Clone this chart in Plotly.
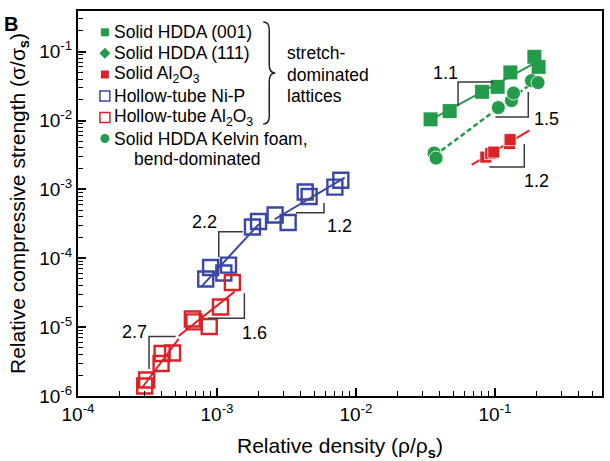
import numpy as np
import plotly.graph_objects as go

# ---------------------------------------------------------------- data
# Solid HDDA octet lattice, (001) orientation
hdda_density = [0.0344, 0.0472, 0.0807, 0.1045, 0.129, 0.192, 0.206]
hdda_strength = [0.0104, 0.0137, 0.0261, 0.0308, 0.0499, 0.0842, 0.060]

# Solid HDDA Kelvin foam (bend-dominated)
kelvin_density = [0.0365, 0.0377, 0.1057, 0.1315, 0.136, 0.183, 0.204]
kelvin_strength = [0.00337, 0.00285, 0.0154, 0.01945, 0.025, 0.0379, 0.0355]

# Solid Al2O3 lattice
al2o3_density = [0.0859, 0.0931, 0.098, 0.127, 0.1285]
al2o3_strength = [0.00294, 0.00331, 0.00348, 0.00462, 0.00528]

# Hollow-tube Ni-P lattice
nip_density = [8.3e-4, 9.0e-4, 1.21e-3, 1.12e-3, 1.80e-3, 1.99e-3,
               2.62e-3, 3.25e-3, 4.31e-3, 4.6e-3, 7.05e-3, 7.78e-3]
nip_strength = [4.99e-5, 7.33e-5, 7.96e-5, 6.1e-5, 2.84e-4, 3.41e-4,
                4.24e-4, 3.30e-4, 9.14e-4, 7.87e-4, 1.08e-3, 1.36e-3]

# Hollow-tube Al2O3 lattice
hal_density = [3.02e-4, 3.12e-4, 3.96e-4, 4.03e-4, 4.79e-4,
               6.65e-4, 6.82e-4, 8.79e-4, 1.06e-3, 1.29e-3]
hal_strength = [1.40e-6, 1.71e-6, 2.96e-6, 4.14e-6, 4.21e-6,
                1.31e-5, 1.19e-5, 1.02e-5, 1.96e-5, 4.44e-5]

# power-law scaling fits: (density, strength, points used, exponent, density span)
fit_hdda = (hdda_density, hdda_strength, slice(0, 7), 1.1, [0.0345, 0.19])
fit_kelvin = (kelvin_density, kelvin_strength, slice(0, 7), 1.5, [0.037, 0.205])
fit_al2o3 = (al2o3_density, al2o3_strength, slice(0, 5), 1.2, [0.068, 0.177])
fit_nip_low = (nip_density, nip_strength, slice(0, 6), 2.2, [7.7e-4, 2.0e-3])
fit_nip_high = (nip_density, nip_strength, slice(6, 12), 1.2, [2.6e-3, 8.3e-3])
fit_hal_low = (hal_density, hal_strength, slice(0, 5), 2.7, [2.9e-4, 5.3e-4])
fit_hal_high = (hal_density, hal_strength, slice(5, 10), 1.6, [5.3e-4, 1.34e-3])

x_ticks = [1e-4, 1e-3, 1e-2, 1e-1]
x_ticktext = ["10<sup>-4</sup>", "10<sup>-3</sup>", "10<sup>-2</sup>", "10<sup>-1</sup>"]
y_ticks = [1e-6, 1e-5, 1e-4, 1e-3, 1e-2, 1e-1]
y_ticktext = ["10<sup>-6</sup>", "10<sup>-5</sup>", "10<sup>-4</sup>",
              "10<sup>-3</sup>", "10<sup>-2</sup>", "10<sup>-1</sup>"]

# ---------------------------------------------------------------- style
GREEN = "#239b49"
RED = "#db2229"
BLUE = "#3b47a5"
INK = "#3a3a3a"
FONT = "Liberation Sans, Arial, sans-serif"

W, H = 610, 461
L, R, T, B = 78, 604, 11, 396


def px(x):
    return (x - L) / (R - L)


def py(y):
    return (B - y) / (B - T)


def fit_line(spec):
    dens, stren, sel, n, span = spec
    lx = np.log10(np.array(dens)[sel])
    ly = np.log10(np.array(stren)[sel])
    xs = np.array(span)
    ys = 10 ** (ly.mean() + n * (np.log10(xs) - lx.mean()))
    return xs, ys


fig = go.Figure()

# fit lines first so markers sit on top
for spec, color, dash, width in [
    (fit_hdda, GREEN, "solid", 2),
    (fit_kelvin, GREEN, "5px,3px", 2.5),
    (fit_al2o3, RED, "solid", 2),
    (fit_nip_low, BLUE, "solid", 2),
    (fit_nip_high, BLUE, "solid", 2),
    (fit_hal_low, RED, "solid", 2),
    (fit_hal_high, RED, "solid", 2),
]:
    xs, ys = fit_line(spec)
    fig.add_trace(go.Scatter(x=xs, y=ys, mode="lines",
                             line=dict(color=color, width=width, dash=dash),
                             hoverinfo="skip"))

fig.add_trace(go.Scatter(x=kelvin_density, y=kelvin_strength, mode="markers",
                         name="Solid HDDA Kelvin foam",
                         marker=dict(symbol="circle", size=14, color=GREEN,
                                     line=dict(color="white", width=0.8))))
fig.add_trace(go.Scatter(x=hdda_density, y=hdda_strength, mode="markers",
                         name="Solid HDDA (001)",
                         marker=dict(symbol="square", size=14, color=GREEN,
                                     line=dict(width=0))))
fig.add_trace(go.Scatter(x=al2o3_density, y=al2o3_strength, mode="markers",
                         name="Solid Al2O3",
                         marker=dict(symbol="square", size=12, color=RED,
                                     line=dict(color="white", width=0.8))))
fig.add_trace(go.Scatter(x=nip_density, y=nip_strength, mode="markers",
                         name="Hollow-tube Ni-P",
                         marker=dict(symbol="square-open", size=15, color=BLUE,
                                     line=dict(width=2.4))))
fig.add_trace(go.Scatter(x=hal_density, y=hal_strength, mode="markers",
                         name="Hollow-tube Al2O3",
                         marker=dict(symbol="square-open", size=15, color=RED,
                                     line=dict(width=2.4))))

shapes = []
annotations = []

# slope brackets with exponent labels
brackets = [
    ([(495, 82), (459.5, 82), (459.5, 106)], "1.1", (447, 73)),
    ([(497, 117), (530, 117), (530, 92)], "1.5", (548, 119)),
    ([(491, 167), (526, 167), (526, 144)], "1.2", (538, 181)),
    ([(243.5, 231.7), (219.3, 231.7), (219.3, 257)], "2.2", (205, 221.5)),
    ([(296.7, 212.7), (325, 212.7), (325, 203)], "1.2", (340.5, 226)),
    ([(176, 336.5), (149.3, 336.5), (149.3, 369)], "2.7", (135, 331.5)),
    ([(208.5, 318.3), (245, 318.3), (245, 293.3)], "1.6", (255, 332.5)),
]
for pts, label, (lx, ly) in brackets:
    path = "M " + " L ".join(f"{px(a):.5f},{py(b):.5f}" for a, b in pts)
    shapes.append(dict(type="path", path=path, xref="paper", yref="paper",
                       line=dict(color=INK, width=1.5)))
    annotations.append(dict(text=label, x=px(lx), y=py(ly), xref="paper", yref="paper",
                            showarrow=False, xanchor="center", yanchor="middle",
                            font=dict(size=18, color="black", family=FONT)))

# legend keys
kx = 105
rows = [32.3, 53.3, 74.5, 96, 117.5, 138.5, 159.5]


def rect(cx, cy, h, fill, line_color, lw):
    return dict(type="rect", xref="paper", yref="paper",
                x0=px(cx - h), x1=px(cx + h), y0=py(cy + h), y1=py(cy - h),
                fillcolor=fill, line=dict(color=line_color, width=lw))


shapes.append(rect(kx, rows[0], 4, GREEN, GREEN, 0))
d = 5.5
shapes.append(dict(type="path", xref="paper", yref="paper",
                   path=(f"M {px(kx - d)},{py(rows[1])} L {px(kx)},{py(rows[1] - d)} "
                         f"L {px(kx + d)},{py(rows[1])} L {px(kx)},{py(rows[1] + d)} Z"),
                   fillcolor=GREEN, line=dict(width=0)))
shapes.append(rect(kx, rows[2], 4, RED, RED, 0))
shapes.append(rect(kx, rows[3], 5, "rgba(0,0,0,0)", BLUE, 1.5))
shapes.append(rect(kx, rows[4], 5, "rgba(0,0,0,0)", RED, 1.5))
shapes.append(dict(type="circle", xref="paper", yref="paper",
                   x0=px(kx - 4.5), x1=px(kx + 4.5),
                   y0=py(rows[5] + 4.5), y1=py(rows[5] - 4.5),
                   fillcolor=GREEN, line=dict(width=0)))

legend_text = [
    "Solid HDDA (001)",
    "Solid HDDA (111)",
    "Solid Al<sub>2</sub>O<sub>3</sub>",
    "Hollow-tube Ni-P",
    "Hollow-tube Al<sub>2</sub>O<sub>3</sub>",
    "Solid HDDA Kelvin foam,",
]
for txt, ry in zip(legend_text, rows):
    annotations.append(dict(text=txt, x=px(112), y=py(ry), xref="paper", yref="paper",
                            showarrow=False, xanchor="left", yanchor="middle",
                            font=dict(size=17.5, color="black", family=FONT)))
annotations.append(dict(text="bend-dominated", x=px(132), y=py(rows[6]),
                        xref="paper", yref="paper", showarrow=False,
                        xanchor="left", yanchor="middle",
                        font=dict(size=17.5, color="black", family=FONT)))
for txt, ry in zip(["stretch-", "dominated", "lattices"], [53.3, 74.5, 96]):
    annotations.append(dict(text=txt, x=px(286), y=py(ry), xref="paper", yref="paper",
                            showarrow=False, xanchor="left", yanchor="middle",
                            font=dict(size=17.5, color="black", family=FONT)))

# curly brace grouping the lattice entries
bx0, bs, bt = 264, 270, 276
by0, bym, by1 = 22, 73, 124
pts = [("M", bx0, by0), ("Q", bs, by0, bs, by0 + 8), ("L", bs, bym - 8),
       ("Q", bs, bym, bt, bym), ("Q", bs, bym, bs, bym + 8), ("L", bs, by1 - 8),
       ("Q", bs, by1, bx0, by1)]
segs = []
for p in pts:
    cmd, coords = p[0], p[1:]
    pairs = [f"{px(coords[i]):.5f},{py(coords[i + 1]):.5f}" for i in range(0, len(coords), 2)]
    segs.append(cmd + " " + " ".join(pairs))
shapes.append(dict(type="path", xref="paper", yref="paper", path=" ".join(segs),
                   line=dict(color="#222222", width=1.5)))

# panel letter
annotations.append(dict(text="<b>B</b>", x=px(2), y=py(11), xref="paper", yref="paper",
                        showarrow=False, xanchor="left", yanchor="top",
                        font=dict(size=20, color="black", family=FONT)))

minor_x = [k * 10.0 ** e for e in range(-4, 0) for k in range(2, 10)]
minor_y = [k * 10.0 ** e for e in range(-6, 0) for k in range(2, 10)]

axis_common = dict(
    type="log", showgrid=False, zeroline=False,
    showline=True, linewidth=2, linecolor="black", mirror=True,
    ticks="inside", ticklen=8, tickwidth=1.5, tickcolor="black",
    tickmode="array",
    tickfont=dict(size=19, color="black", family=FONT),
)

fig.update_layout(
    width=W, height=H,
    margin=dict(l=L, r=W - R, t=T, b=H - B),
    paper_bgcolor="white", plot_bgcolor="white",
    showlegend=False,
    font=dict(family=FONT, color="black"),
    xaxis=dict(**axis_common, range=[-4, -0.23],
               tickvals=x_ticks, ticktext=x_ticktext,
               minor=dict(tickmode="array", tickvals=minor_x, ticks="inside",
                          ticklen=5, tickwidth=1.2, tickcolor="black"),
               title=dict(text="Relative density (ρ/ρ<sub><b>s</b></sub>)",
                          font=dict(size=21, color="black", family=FONT), standoff=15)),
    yaxis=dict(**axis_common, range=[-6, -0.41],
               tickvals=y_ticks, ticktext=y_ticktext,
               minor=dict(tickmode="array", tickvals=minor_y, ticks="inside",
                          ticklen=5, tickwidth=1.2, tickcolor="black"),
               title=dict(text="Relative compressive strength (σ/σ<sub><b>s</b></sub>)",
                          font=dict(size=21, color="black", family=FONT), standoff=8)),
    shapes=shapes,
    annotations=annotations,
)

fig.write_html("out.html")
